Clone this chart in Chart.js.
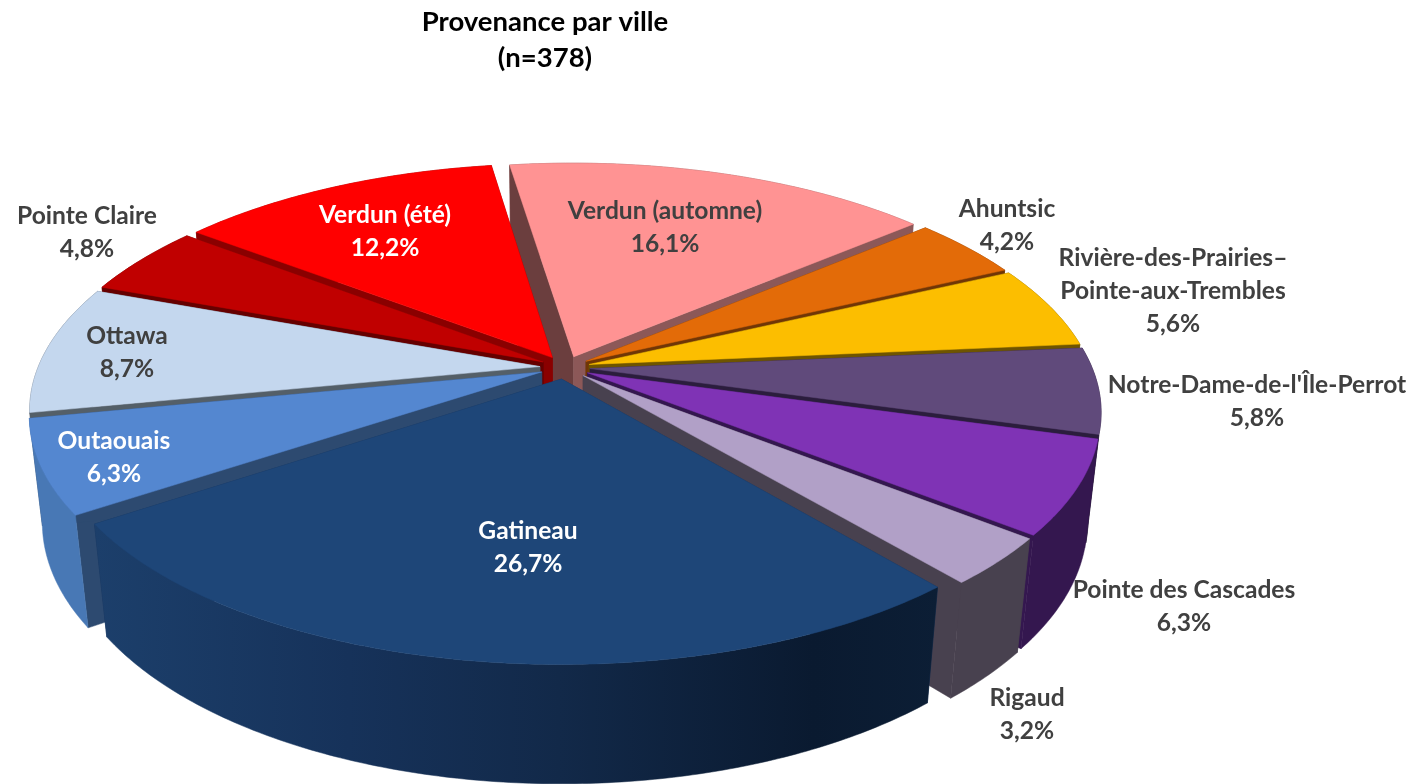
<!DOCTYPE html>
<html lang="fr">
<head>
<meta charset="utf-8">
<title>Provenance par ville</title>
<script src="https://cdn.jsdelivr.net/npm/chart.js@4"></script>
<style>
  html, body { margin: 0; padding: 0; background: #fff; }
  #wrap { width: 1425px; height: 784px; }
</style>
</head>
<body>
<div id="wrap"><canvas id="pie" width="1425" height="784"></canvas></div>
<script>
const categories = [
  'Verdun (automne)', 'Ahuntsic', 'Rivière-des-Prairies–\nPointe-aux-Trembles',
  "Notre-Dame-de-l'Île-Perrot", 'Pointe des Cascades', 'Rigaud', 'Gatineau',
  'Outaouais', 'Ottawa', 'Pointe Claire', 'Verdun (été)'
];
const percentValues = [16.1, 4.2, 5.6, 5.8, 6.3, 3.2, 26.7, 6.3, 8.7, 4.8, 12.2];

// colours, same order as the categories
const topColors = ['#FF9393', '#E36B08', '#FCBE00', '#604A7B', '#7F33B5', '#B1A0C7', '#1E4678', '#5487D0', '#C4D7EE', '#C00000', '#FF0000'];
const startWallColors = ['#6B3E3E', '#703606', '#6E5400', '#2B1D3D', '#34174F', '#48414F', '#16325A', '#2D4A70', '#545F68', '#660000', '#8A0000'];
const endWallColors = ['#8C5858', '#703606', '#6E5400', '#2B1D3D', '#34174F', '#48414F', '#16325A', '#2D4A70', '#545F68', '#660000', '#8A0000'];
const outerWallColors = ['#8C5858', '#703606', '#6E5400', '#2B1D3D', '#34174F', '#48414F', null, '#4878B5', '#545F68', '#660000', '#8A0000'];
const labelColors = ['#404040', '#404040', '#404040', '#404040', '#404040', '#404040', '#FFFFFF', '#FFFFFF', '#404040', '#404040', '#FFFFFF'];

// centre of each label's first line, excel placed these by hand
const labelSpots = [[665, 211], [1007, 209], [1173, 258], [1257, 385], [1184, 590], [1027, 698], [528, 531], [114, 441], [127, 336], [87, 216], [385, 215]];
const labelFont = 'bold 24.6px Lato';
const labelLine = 33;

// fake 3d camera
const view = { cx: 565, cy: 367.5, radius: 502, tilt: 231, persp: 0.175, depth: 107.4, shrink: 0.024, explode: 0.05 };

// X,Y on the unit disc (Y towards the viewer), z 0 = top face, 1 = bottom face
function project(X, Y, z) {
  const w = 1 - view.persp * Y + view.shrink * z;
  return [view.cx + view.radius * X / w, view.cy + (view.tilt * Y + view.depth * z) / w];
}

function tracePoly(ctx, pts) {
  ctx.beginPath();
  pts.forEach((p, i) => i ? ctx.lineTo(p[0], p[1]) : ctx.moveTo(p[0], p[1]));
  ctx.closePath();
}

function fillPoly(ctx, pts, color) {
  tracePoly(ctx, pts);
  ctx.fillStyle = color;
  ctx.strokeStyle = color;
  ctx.lineWidth = 0.5;
  ctx.fill();
  ctx.stroke();
}

function gatineauWall(ctx) {
  const g = ctx.createLinearGradient(95, 0, 940, 0);
  g.addColorStop(0, '#1C3F6B');
  g.addColorStop(0.3, '#16325A');
  g.addColorStop(0.55, '#122949');
  g.addColorStop(0.85, '#0A1A30');
  g.addColorStop(1, '#0C1E35');
  return g;
}

const pie3d = {
  id: 'pie3d',
  beforeDatasetsDraw(chart) {
    const ctx = chart.ctx;
    const arcs = chart.getDatasetMeta(0).data;
    const order = arcs.map((arc, i) => {
      const mid = (arc.startAngle + arc.endAngle) / 2;
      return { arc, i, mid, depthKey: Math.sin(mid) };
    }).sort((a, b) => a.depthKey - b.depthKey);

    order.forEach(({ arc, i, mid, depthKey }) => {
      const ox = Math.cos(mid) * view.explode;
      const oy = Math.sin(mid) * view.explode;
      const rim = [];
      const steps = Math.max(4, Math.ceil((arc.endAngle - arc.startAngle) * 90));
      for (let s = 0; s <= steps; s++) {
        const a = arc.startAngle + (arc.endAngle - arc.startAngle) * s / steps;
        rim.push([ox + Math.cos(a), oy + Math.sin(a)]);
      }
      const at = z => rim.map(p => project(p[0], p[1], z));
      const tip0 = project(ox, oy, 0);
      const tip1 = project(ox, oy, 1);
      const rim0 = at(0);
      const rim1 = at(1);
      const outer = () => fillPoly(ctx, rim0.concat(rim1.slice().reverse()), outerWallColors[i] || gatineauWall(ctx));

      // back slices: outer wall goes under the radial faces, front slices the other way round
      if (depthKey < 0) outer();
      fillPoly(ctx, [tip0, rim0[0], rim1[0], tip1], startWallColors[i]);
      fillPoly(ctx, [tip0, rim0[steps], rim1[steps], tip1], endWallColors[i]);
      if (depthKey >= 0) outer();
      fillPoly(ctx, [tip0].concat(rim0), topColors[i]);
    });
    return false; // the flat arcs are replaced by the above
  },
  afterDraw(chart) {
    const ctx = chart.ctx;
    ctx.save();
    ctx.font = labelFont;
    ctx.textAlign = 'center';
    ctx.textBaseline = 'middle';
    categories.forEach((name, i) => {
      const lines = name.split('\n');
      lines.push(percentValues[i].toFixed(1).replace('.', ',') + '%');
      ctx.fillStyle = labelColors[i];
      lines.forEach((line, n) => ctx.fillText(line, labelSpots[i][0], labelSpots[i][1] + n * labelLine));
    });
    ctx.restore();
  }
};

new Chart(document.getElementById('pie'), {
  type: 'pie',
  data: {
    labels: categories,
    datasets: [{ data: percentValues, backgroundColor: topColors }]
  },
  options: {
    responsive: false,
    animation: false,
    rotation: -8.5,
    layout: { padding: { right: 335 } },
    plugins: {
      legend: { display: false },
      tooltip: { enabled: false },
      title: {
        display: true,
        text: ['Provenance par ville', '(n=378)'],
        color: '#000000',
        font: { family: 'Lato', size: 27.5, weight: 'bold', lineHeight: 1.31 },
        padding: { top: 4, bottom: 10 }
      }
    }
  },
  plugins: [pie3d]
});
</script>
</body>
</html>
